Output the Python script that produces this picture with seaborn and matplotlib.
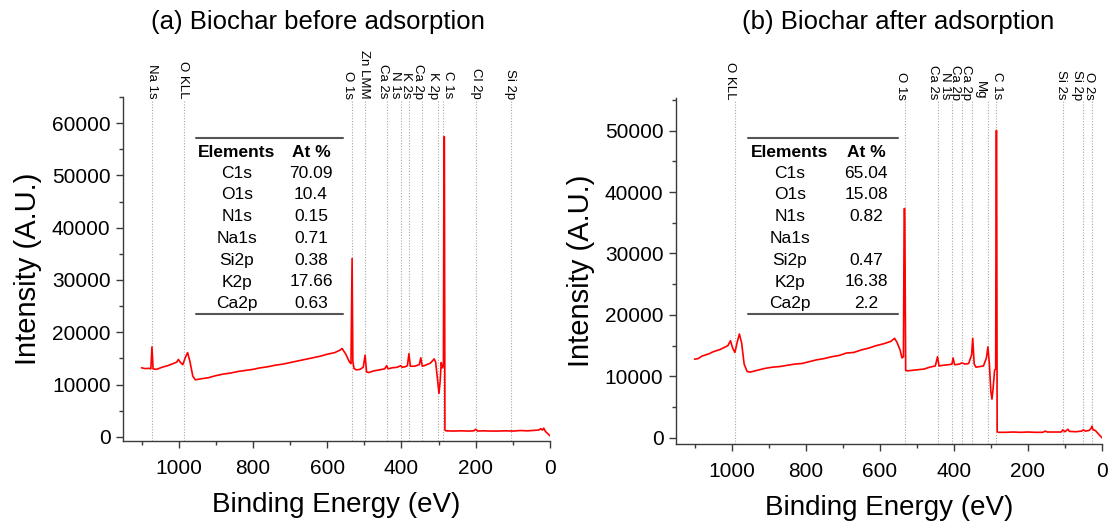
import matplotlib
matplotlib.use("Agg")
import matplotlib.pyplot as plt
import seaborn as sns
import pandas as pd
from matplotlib.ticker import MultipleLocator
from matplotlib.lines import Line2D
from matplotlib.transforms import offset_copy

# ---------------- data ----------------
a_energy = [1100, 1090, 1080, 1075, 1072, 1069, 1060, 1045, 1030, 1015, 1005, 1001, 995, 989,
            982, 976, 970, 962, 955, 940, 920, 900, 880, 860, 840, 820, 800, 780, 760, 740,
            720, 700, 680, 660, 640, 620, 600, 580, 565, 560, 550, 540, 536, 533, 531, 528,
            522, 512, 503, 498, 494, 488, 475, 460, 445, 440, 436, 425, 412, 402, 398, 390,
            384, 380, 376, 365, 352, 348, 344, 335, 322, 312, 308, 303, 299, 296, 293, 290,
            287, 285.5, 284.5, 283, 280, 260, 240, 220, 205, 200, 195, 180, 160, 140, 120,
            100, 80, 60, 40, 30, 25, 20, 17, 12, 6, 0]
a_intensity = [13200, 13050, 13100, 13000, 17200, 13000, 12900, 13300, 13600, 14000, 14300, 14800,
               14200, 13800, 15200, 16100, 14500, 11600, 10900, 11100, 11300, 11700, 12000, 12200,
               12500, 12700, 12900, 13200, 13400, 13700, 13900, 14200, 14500, 14800, 15100, 15400,
               15800, 16100, 16600, 16900, 15800, 14300, 14000, 34100, 14500, 13100, 12800, 12900,
               13300, 15600, 12400, 12300, 12600, 12800, 13000, 13600, 13000, 13200, 13300, 13600,
               13300, 13400, 13600, 15900, 13500, 13500, 13800, 15100, 13500, 13700, 14100, 14900,
               14300, 11000, 8300, 10500, 14200, 13200, 13500, 57400, 57400, 1300, 1150, 1100,
               1150, 1100, 1150, 1450, 1100, 1150, 1100, 1100, 1150, 1100, 1200, 1150, 1250, 1300,
               1550, 1300, 1650, 1000, 600, 200]

b_energy = [1100, 1090, 1080, 1070, 1060, 1050, 1040, 1030, 1020, 1010, 1003, 997, 991, 985,
            979, 973, 966, 958, 950, 930, 910, 890, 870, 850, 830, 810, 790, 770, 750, 730,
            710, 690, 670, 650, 630, 610, 590, 570, 560, 553, 545, 540, 536, 534, 532.5, 530,
            525, 510, 495, 480, 465, 450, 444, 440, 430, 415, 405, 402, 398, 385, 378, 370,
            360, 352, 349, 345, 340, 330, 320, 312, 308, 304, 300, 297, 294, 290, 287, 285.5,
            284.5, 283, 280, 260, 240, 220, 200, 180, 160, 153, 148, 130, 110, 106, 100, 92,
            88, 70, 55, 50, 45, 35, 30, 27, 24, 18, 12, 6, 0]
b_intensity = [12800, 12900, 13300, 13500, 13700, 14000, 14200, 14400, 14700, 15000, 15800, 14600,
               13900, 15500, 16900, 15500, 12000, 10800, 10700, 11000, 11300, 11500, 11600, 11800,
               12000, 12100, 12400, 12700, 12900, 13200, 13400, 13800, 13900, 14300, 14600, 15000,
               15300, 15700, 16200, 15500, 14300, 13000, 13200, 37300, 37300, 11000, 10900, 11000,
               11100, 11200, 11500, 11700, 13200, 11700, 11800, 11900, 12000, 13000, 11900, 12000,
               12200, 12000, 12100, 13500, 16200, 12000, 11500, 11600, 11700, 13000, 14800, 12000,
               7500, 6300, 8000, 11000, 11200, 50000, 50000, 1000, 900, 900, 950, 900, 950, 900,
               900, 1100, 950, 950, 950, 1300, 1000, 1400, 1050, 1000, 1100, 1300, 1100, 1200,
               1500, 1900, 1300, 1200, 800, 400, 0]

a_peak_labels = ["Na 1s", "O KLL", "O 1s", "Zn LMM", "Ca 2s", "N 1s", "K 2s", "Ca 2p",
                 "K 2p", "C 1s", "Cl 2p", "Si 2p"]
a_peak_energy = [1072, 986, 533, 497, 439, 402, 379, 346, 301, 288, 199, 104]
b_peak_labels = ["O KLL", "O 1s", "Ca 2s", "N 1s", "Ca 2p", "Ca 2p", "Mg", "C 1s",
                 "Si 2s", "Si 2p", "O 2s"]
b_peak_energy = [991, 533, 444, 404, 378, 350, 309, 286, 104, 52, 28]

table_elements = ["C1s", "O1s", "N1s", "Na1s", "Si2p", "K2p", "Ca2p"]
a_at_percent = ["70.09", "10.4", "0.15", "0.71", "0.38", "17.66", "0.63"]
b_at_percent = ["65.04", "15.08", "0.82", "", "0.47", "16.38", "2.2"]

titles = ["(a) Biochar before adsorption", "(b) Biochar after adsorption"]

# label nudges (pixels, horizontal) so crowded labels sit as in the reference
a_label_dx = [0, -1, -4.5, -1, -4.3, -6, -3, -3.2, -5.4, 4.8, 0, -1]
b_label_dx = [-5, -4, -4.4, -7.7, -6.8, -6.7, -7.4, 1.1, -2, -6, -3]

# ---------------- style ----------------
sns.set_theme(style="ticks")
plt.rcParams['font.family'] = ['Liberation Sans', 'DejaVu Sans']

W, H = 1110, 523
fig = plt.figure(figsize=(W / 100, H / 100), dpi=100)


def fx(px):
    return px / W


def fy(py):
    return 1 - py / H


ax_a = fig.add_axes([fx(123), fy(441), fx(550) - fx(123), fy(97) - fy(441)])
ax_b = fig.add_axes([fx(676), fy(444), fx(1102) - fx(676), fy(98) - fy(444)])

panels = [
    (ax_a, a_energy, a_intensity, a_peak_labels, a_peak_energy, a_label_dx, (-800, 65000)),
    (ax_b, b_energy, b_intensity, b_peak_labels, b_peak_energy, b_label_dx, (-1000, 55300)),
]

spine_col = "#3a3a3a"
for ax, en, inten, labs, labE, dxs, ylim in panels:
    df = pd.DataFrame({"Binding Energy (eV)": en, "Intensity": inten})
    sns.lineplot(data=df, x="Binding Energy (eV)", y="Intensity", ax=ax, color="#ff0000",
                 lw=1.2, estimator=None, sort=False, zorder=3)
    ax.set_xlim(1150, 0)
    ax.set_ylim(*ylim)
    ax.xaxis.set_major_locator(MultipleLocator(200))
    ax.xaxis.set_minor_locator(MultipleLocator(100))
    ax.yaxis.set_major_locator(MultipleLocator(10000))
    ax.yaxis.set_minor_locator(MultipleLocator(5000))
    for s in ["top", "right"]:
        ax.spines[s].set_visible(False)
    for s in ["left", "bottom"]:
        ax.spines[s].set_color(spine_col)
        ax.spines[s].set_linewidth(1.0)
    ax.tick_params(axis="both", which="major", direction="out", length=5, width=1,
                   color=spine_col, labelsize=15, labelcolor="black")
    ax.tick_params(axis="both", which="minor", direction="out", length=3, width=1,
                   color=spine_col)
    ax.tick_params(axis="x", which="major", pad=8)
    ax.tick_params(axis="y", which="major", pad=4)
    ax.set_xlabel("Binding Energy (eV)", fontsize=20, labelpad=10, color="black")
    ax.set_ylabel("Intensity (A.U.)", fontsize=21, labelpad=7, color="black")
    ax.patch.set_alpha(0)
    trans = ax.get_xaxis_transform()
    for lab, e, dx in zip(labs, labE, dxs):
        ax.axvline(e, ymin=0, ymax=0.99, color="#a8a8a8", ls=(0, (1, 1.5)), lw=0.8, zorder=1)
        t = offset_copy(trans, fig=fig, x=dx, y=0, units="dots")
        ax.text(e, 0.995, lab, transform=t, rotation=-90, ha="center", va="bottom",
                fontsize=9.5, color="black", clip_on=False)

# titles
fig.text(fx(318), fy(22), titles[0], ha="center", va="center", fontsize=18.5, color="black")
fig.text(fx(898), fy(22), titles[1], ha="center", va="center", fontsize=18.5, color="black")

# tables
row_y0 = 173
row_dy = 21.8
for (c1, c2, x0, x1, vals) in [(237, 311, 196, 343, a_at_percent),
                               (790, 866, 748, 898, b_at_percent)]:
    fig.add_artist(Line2D([fx(x0), fx(x1)], [fy(138), fy(138)], color="#555555", lw=1.5))
    fig.add_artist(Line2D([fx(x0), fx(x1)], [fy(314), fy(314)], color="#555555", lw=1.5))
    fig.text(fx(c1), fy(152), "Elements", ha="center", va="center", fontsize=12.5,
             fontweight="bold", color="black")
    fig.text(fx(c2), fy(152), "At %", ha="center", va="center", fontsize=12.5,
             fontweight="bold", color="black")
    for i, (el, v) in enumerate(zip(table_elements, vals)):
        yy = row_y0 + i * row_dy
        fig.text(fx(c1), fy(yy), el, ha="center", va="center", fontsize=12.5, color="black")
        if v:
            fig.text(fx(c2), fy(yy), v, ha="center", va="center", fontsize=12.5, color="black")

fig.savefig("out.png", dpi=100)
